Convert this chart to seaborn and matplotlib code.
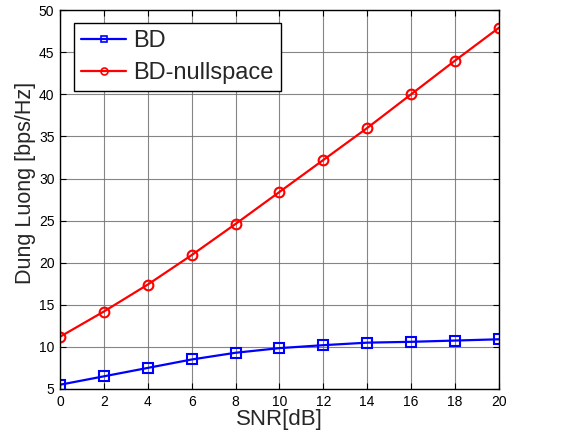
import numpy as np
import pandas as pd
import matplotlib
matplotlib.use("Agg")
import matplotlib.pyplot as plt
import seaborn as sns

snr = [0, 2, 4, 6, 8, 10, 12, 14, 16, 18, 20]
bd = [5.5, 6.5, 7.5, 8.5, 9.3, 9.85, 10.2, 10.5, 10.6, 10.75, 10.9]
bd_null = [11.2, 14.2, 17.4, 20.9, 24.6, 28.4, 32.2, 36.0, 40.0, 44.0, 47.9]
series_names = ["BD", "BD-nullspace"]
xticks = [0, 2, 4, 6, 8, 10, 12, 14, 16, 18, 20]
yticks = [5, 10, 15, 20, 25, 30, 35, 40, 45, 50]

df = pd.DataFrame({
    "SNR": snr * 2,
    "val": bd + bd_null,
    "series": [series_names[0]] * len(snr) + [series_names[1]] * len(snr),
})

sns.set_style("white")
plt.rcParams["font.family"] = ["Liberation Sans", "DejaVu Sans"]

fig = plt.figure(figsize=(5.74, 4.43), dpi=100)
ax = fig.add_axes([0.1045, 0.122, 0.7645, 0.855])

sns.lineplot(data=df, x="SNR", y="val", hue="series", style="series",
             palette={"BD": "#0000ff", "BD-nullspace": "#ff0000"},
             markers={"BD": "s", "BD-nullspace": "o"}, dashes=False,
             markerfacecolor="none", markersize=7, markeredgewidth=1.5,
             linewidth=1.6, ax=ax)
for line in ax.lines:
    line.set_markerfacecolor("none")
    line.set_markeredgecolor(line.get_color())

ax.set_xlim(0, 20)
ax.set_ylim(5, 50)
ax.set_xticks(xticks)
ax.set_yticks(yticks)
ax.grid(True, color="#707070", linewidth=0.8, alpha=0.85)
ax.tick_params(direction="in", length=4, labelsize=10, colors="black",
               top=True, right=True, bottom=True, left=True, pad=4)
for s in ax.spines.values():
    s.set_color("black")
    s.set_linewidth(1.0)
    s.set_visible(True)
ax.set_xlabel("SNR[dB]", fontsize=16, labelpad=0)
ax.set_ylabel("Dung Luong [bps/Hz]", fontsize=15.5)
ax.yaxis.set_label_coords(-0.055, 0.544)

handles, labels = ax.get_legend_handles_labels()
for h in handles:
    h.set_markerfacecolor("none")
    h.set_markersize(5)
    h.set_markeredgewidth(1.2)
leg = ax.legend(handles, labels, loc="upper left", bbox_to_anchor=(0.032, 0.966),
                fontsize=17, frameon=True, fancybox=False, edgecolor="black",
                framealpha=1, handlelength=1.9, borderpad=0.3, labelspacing=0.42,
                handletextpad=0.3, borderaxespad=0)
leg.get_frame().set_linewidth(1.0)

fig.savefig("out.png", dpi=100)
